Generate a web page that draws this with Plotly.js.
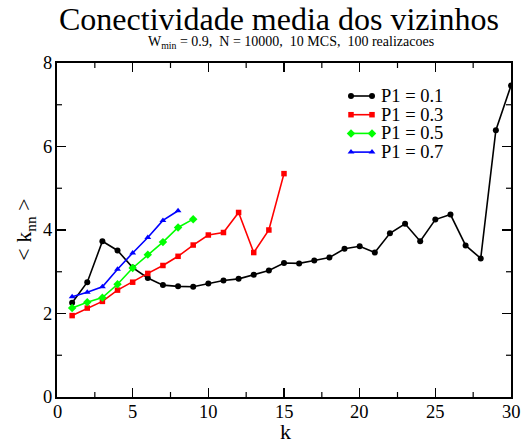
<!DOCTYPE html>
<html>
<head>
<meta charset="utf-8">
<script src="https://cdn.plot.ly/plotly-3.0.1.min.js"></script>
<style>
  html, body { margin: 0; padding: 0; background: #fff; }
  #chart { width: 525px; height: 443px; }
  /* one serif face for every label, with a fallback chain */
  svg text, svg tspan {
    font-family: "Liberation Serif", "Times New Roman", Times, "DejaVu Serif", serif !important;
  }
</style>
</head>
<body>
<div id="chart"></div>
<script>
// Mean neighbour connectivity <k_nn> as a function of degree k
const kP01 = [1, 2, 3, 4, 5, 6, 7, 8, 9, 10, 11, 12, 13, 14, 15, 16, 17, 18, 19, 20, 21, 22, 23, 24, 25, 26, 27, 28, 29, 30];
const knnP01 = [2.26, 2.75, 3.73, 3.51, 3.10, 2.85, 2.68, 2.65, 2.64, 2.72, 2.79, 2.83, 2.93, 3.03, 3.21, 3.20, 3.27, 3.34, 3.55, 3.61, 3.46, 3.92, 4.15, 3.73, 4.25, 4.37, 3.63, 3.32, 6.39, 7.46];

const kP03 = [1, 2, 3, 4, 5, 6, 7, 8, 9, 10, 11, 12, 13, 14, 15];
const knnP03 = [1.95, 2.13, 2.29, 2.56, 2.75, 2.96, 3.15, 3.37, 3.64, 3.88, 3.94, 4.42, 3.46, 4.00, 5.35];

const kP05 = [1, 2, 3, 4, 5, 6, 7, 8, 9];
const knnP05 = [2.13, 2.27, 2.38, 2.70, 3.09, 3.41, 3.71, 4.06, 4.26];

const kP07 = [1, 2, 3, 4, 5, 6, 7, 8];
const knnP07 = [2.40, 2.51, 2.64, 3.06, 3.45, 3.82, 4.23, 4.46];

const seriesNames = ['P1 = 0.1', 'P1 = 0.3', 'P1 = 0.5', 'P1 = 0.7'];

// axis ticks and their labels
const xTickVals = [0, 5, 10, 15, 20, 25, 30];
const xTickText = ['0', '5', '10', '15', '20', '25', '30'];
const yTickVals = [0, 2, 4, 6, 8];
const yTickText = ['0', '2', '4', '6', '8'];
const xMinorVals = [2.5, 7.5, 12.5, 17.5, 22.5, 27.5];
const yMinorVals = [1, 3, 5, 7];

const serif = 'Liberation Serif';
const black = '#000';

const styles = [
  { color: '#000000', symbol: 'circle', size: 6 },
  { color: '#ff0000', symbol: 'square', size: 5.5 },
  { color: '#00ff00', symbol: 'diamond', size: 6.5 },
  { color: '#0000ff', symbol: 'triangle-up', size: 6 }
];
const xs = [kP01, kP03, kP05, kP07];
const ys = [knnP01, knnP03, knnP05, knnP07];

const data = [];
xs.forEach((x, i) => {
  data.push({
    x: x, y: ys[i], name: seriesNames[i], type: 'scatter', mode: 'lines+markers',
    showlegend: false,
    line: { color: styles[i].color, width: 1.6 },
    marker: { color: styles[i].color, symbol: styles[i].symbol, size: styles[i].size }
  });
});

// legend samples on a hidden overlay axis pair measured in page pixels
const legLineX0 = 351, legLineX1 = 372, legTextX = 379, legTop = 96, legStep = 18.7;
const annotations = [];
seriesNames.forEach((name, i) => {
  const yy = legTop + i * legStep;
  data.push({
    x: [legLineX0, legLineX1], y: [yy, yy], xaxis: 'x2', yaxis: 'y2',
    type: 'scatter', mode: 'lines+markers', showlegend: false, hoverinfo: 'skip',
    line: { color: styles[i].color, width: 1.6 },
    marker: { color: styles[i].color, symbol: styles[i].symbol, size: styles[i].size }
  });
  annotations.push({
    text: name, xref: 'x2', yref: 'y2', x: legTextX, y: yy,
    xanchor: 'left', yanchor: 'middle', showarrow: false,
    font: { family: serif, size: 18.5, color: black }
  });
});

function label(text, opts, size) {
  return Object.assign({ text: text, showarrow: false, font: { family: serif, size: size, color: black } }, opts);
}

// tick labels
xTickVals.forEach((v, i) => annotations.push(label(xTickText[i],
  { xref: 'x', yref: 'paper', x: v, y: 0, xanchor: 'center', yanchor: 'top', yshift: -3 }, 18.5)));
yTickVals.forEach((v, i) => annotations.push(label(yTickText[i],
  { xref: 'paper', yref: 'y', x: 0, y: v, xanchor: 'right', yanchor: 'middle', xshift: -3 }, 18.5)));

// titles
annotations.push(label('Conectividade media dos vizinhos',
  { xref: 'paper', yref: 'paper', x: 0.489, y: 1.132, xanchor: 'center', yanchor: 'middle' }, 32));
annotations.push(label('W<sub>min</sub> = 0.9,\u00a0 N = 10000,\u00a0 10 MCS,\u00a0 100 realizacoes',
  { xref: 'paper', yref: 'paper', x: 0.5165, y: 1.06, xanchor: 'center', yanchor: 'middle' }, 14));
annotations.push(label('k',
  { xref: 'paper', yref: 'paper', x: 0.503, y: -0.102, xanchor: 'center', yanchor: 'middle' }, 22));
annotations.push(label('&lt; k<sub>nn</sub> &gt;',
  { xref: 'paper', yref: 'paper', x: -0.0705, y: 0.501, xanchor: 'center', yanchor: 'middle', textangle: -90 }, 22));

// short intermediate ticks on all four sides
const minorLenX = 5 / 334, minorLenY = 5 / 454;
const shapes = [];
xMinorVals.forEach(v => {
  shapes.push({ type: 'line', xref: 'x', yref: 'paper', x0: v, x1: v, y0: 0, y1: minorLenX, line: { color: black, width: 1.2 } });
  shapes.push({ type: 'line', xref: 'x', yref: 'paper', x0: v, x1: v, y0: 1, y1: 1 - minorLenX, line: { color: black, width: 1.2 } });
});
yMinorVals.forEach(v => {
  shapes.push({ type: 'line', xref: 'paper', yref: 'y', x0: 0, x1: minorLenY, y0: v, y1: v, line: { color: black, width: 1.2 } });
  shapes.push({ type: 'line', xref: 'paper', yref: 'y', x0: 1, x1: 1 - minorLenY, y0: v, y1: v, line: { color: black, width: 1.2 } });
});

const axisCommon = {
  showline: true, linecolor: black, linewidth: 2,
  mirror: 'ticks', ticks: 'inside', ticklen: 9, tickwidth: 1.2, tickcolor: black,
  showgrid: false, zeroline: false, showticklabels: false, tickmode: 'array'
};

const layout = {
  width: 525, height: 443,
  margin: { l: 57, r: 14, t: 63, b: 46 },
  paper_bgcolor: '#fff', plot_bgcolor: '#fff',
  font: { family: serif, color: black },
  showlegend: false,
  xaxis: Object.assign({}, axisCommon, { range: [0, 30], tickvals: xTickVals }),
  yaxis: Object.assign({}, axisCommon, { range: [0, 8], tickvals: yTickVals }),
  xaxis2: { overlaying: 'x', range: [57, 511], visible: false, fixedrange: true },
  yaxis2: { overlaying: 'y', range: [397, 63], visible: false, fixedrange: true },
  shapes: shapes,
  annotations: annotations
};

Plotly.newPlot('chart', data, layout, { displayModeBar: false, staticPlot: true });
</script>
</body>
</html>
